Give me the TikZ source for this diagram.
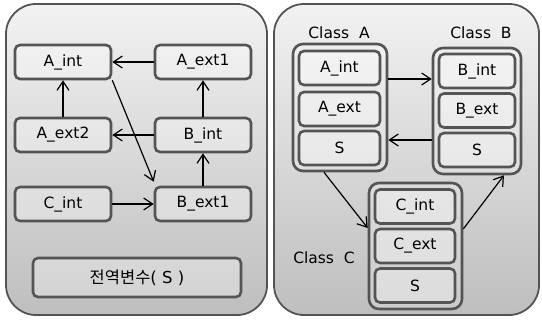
\documentclass[tikz,border=0pt]{standalone}
\usepackage{fontspec}
\setmainfont{DejaVu Sans}
\newfontfamily\korfont{Noto Sans CJK KR}
\usepackage{tikz}
\usetikzlibrary{arrows.meta}
\definecolor{pInk}{HTML}{545454}
\definecolor{pTop}{HTML}{F2F2F2}
\definecolor{pBot}{HTML}{BEBEBE}

\begin{document}
\begin{tikzpicture}[x=1pt, y=-1pt, >={Straight Barb[length=9pt,width=12pt]},
    panel/.style={draw=pInk, line width=1.8pt, rounded corners=30pt, top color=pTop, bottom color=pBot,
      inner sep=0pt, minimum height=311pt},
    cell/.style={draw=pInk, line width=2.6pt, rounded corners=5pt, fill=white, fill opacity=0.3,
      text opacity=1, minimum height=34pt, inner sep=0pt, font=\fontsize{15.5}{18}\selectfont},
    grp/.style={draw=pInk, line width=2.6pt, rounded corners=10pt, fill=white, fill opacity=0.2, inner sep=0pt},
    lbl/.style={font=\fontsize{15.5}{18}\selectfont},
    arr/.style={->, line width=1.2pt, black}]
  \useasboundingbox (0,0) rectangle (542,322);
  \node[panel, minimum width=261pt] (left) at (136.5,159.5) {};
  \node[panel, minimum width=265pt] (right) at (406.5,159.5) {};

  \foreach \n/\t/\x/\y in {aint/A\_int/63/62, aext1/A\_ext1/203/62, aext2/A\_ext2/63/135,
      bint/B\_int/203/135, cint/C\_int/63/204, bext1/B\_ext1/203/204}
    \node[cell, minimum width=96pt] (\n) at (\x,\y) {\t};
  \node[cell, minimum width=208pt, minimum height=39pt, font=\fontsize{16.5}{19}\selectfont] (glob) at (137,277.5)
    {{\korfont 전역변수}(\ S\ )};

  \draw[arr] (aext1) -- (aint);
  \draw[arr] (aext2) -- (aint);
  \draw[arr] (bint) -- (aext2);
  \draw[arr] (bint) -- (aext1);
  \draw[arr] (bext1) -- (bint);
  \draw[arr] (cint) -- (bext1);
  \draw[arr] (aint.south east) -- ([yshift=4pt]bext1.north west);

  \node[grp, minimum width=94pt, minimum height=127pt] (clsA) at (340,107.5) {};
  \node[grp, minimum width=88pt, minimum height=126pt] (clsB) at (477,111) {};
  \node[grp, minimum width=93pt, minimum height=126pt] (clsC) at (415.5,246) {};
  \foreach \n/\t/\x/\y/\w in {ra/A\_int/339.5/68/81, rb/A\_ext/339.5/109/81, rc/S/339.5/148/81,
      sa/B\_int/477/71/76, sb/B\_ext/477/110.5/76, sc/S/477/150/76,
      ta/C\_int/415/206.5/80, tb/C\_ext/415/246/80, tc/S/415/285.5/80}
    \node[cell, minimum width=\w pt] (\n) at (\x,\y) {\t};
  \node[lbl] (labA) at (339,33) {Class\ \ A};
  \node[lbl] (labB) at (481,33) {Class\ \ B};
  \node[lbl] (labC) at (324,258) {Class\ \ C};

  \draw[arr] ([yshift=28.5pt]clsA.east) -- ([yshift=32pt]clsB.west);
  \draw[arr] ([yshift=-29pt]clsB.west) -- ([yshift=-32.5pt]clsA.east);
  \draw[arr] ([xshift=-16pt]clsA.south) -- ([yshift=18pt]clsC.west);
  \draw[arr] ([yshift=17pt]clsC.east) -- ([xshift=27pt]clsB.south);
\end{tikzpicture}
\end{document}
